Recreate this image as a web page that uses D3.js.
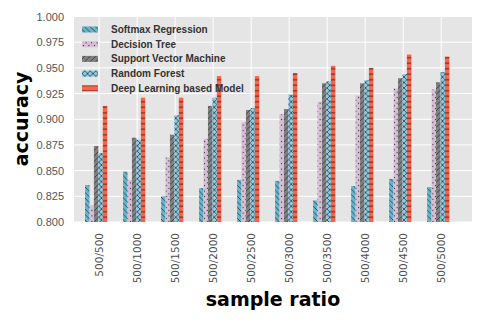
<!DOCTYPE html>
<html>
<head>
<meta charset="utf-8">
<script src="https://cdn.jsdelivr.net/npm/d3@7"></script>
<style>
body { margin: 0; background: #fff; }
</style>
</head>
<body>
<script>
var ratios = ["500/500", "500/1000", "500/1500", "500/2000", "500/2500",
              "500/3000", "500/3500", "500/4000", "500/4500", "500/5000"];
var seriesNames = ["Softmax Regression", "Decision Tree", "Support Vector Machine",
                   "Random Forest", "Deep Learning based Model"];
var softmaxAcc = [0.836, 0.849, 0.825, 0.833, 0.841, 0.840, 0.821, 0.835, 0.842, 0.834];
var treeAcc    = [0.816, 0.841, 0.863, 0.881, 0.897, 0.905, 0.917, 0.923, 0.930, 0.929];
var svmAcc     = [0.874, 0.882, 0.885, 0.913, 0.909, 0.910, 0.935, 0.935, 0.940, 0.936];
var forestAcc  = [0.867, 0.880, 0.904, 0.921, 0.911, 0.924, 0.937, 0.938, 0.944, 0.946];
var deepAcc    = [0.913, 0.921, 0.921, 0.942, 0.942, 0.945, 0.952, 0.950, 0.963, 0.961];
var yTicks = [0.800, 0.825, 0.850, 0.875, 0.900, 0.925, 0.950, 0.975, 1.000];

var allSeries = [softmaxAcc, treeAcc, svmAcc, forestAcc, deepAcc];
var fills = ["#64b5cd", "#d8bfd8", "#808080", "#87ceeb", "#ff6347"];
var hatches = ["back", "dots", "fwd", "cross", "horiz"];

var W = 485, H = 323;
var margin = {top: 16.5, right: 13, bottom: 101, left: 74},
    width = W - margin.left - margin.right,
    height = H - margin.top - margin.bottom;
var barW = 0.117;

var svg = d3.select("body").append("svg")
    .attr("width", W)
    .attr("height", H);

// hatch patterns
var defs = svg.append("defs");
var s = 5.5;
function makePattern(id, kind, fill) {
    var p = defs.append("pattern")
        .attr("id", id)
        .attr("patternUnits", "userSpaceOnUse")
        .attr("width", s).attr("height", s);
    p.append("rect").attr("width", s).attr("height", s).attr("fill", fill);
    var ink = "#262626", lw = 0.7;
    if (kind == "back" || kind == "cross") {
        p.append("path")
            .attr("d", "M-1,-1L" + (s + 1) + "," + (s + 1) + "M" + (s - 1) + ",-1L" + (s + 1) + ",1M-1," + (s - 1) + "L1," + (s + 1))
            .attr("stroke", ink).attr("stroke-width", lw);
    }
    if (kind == "fwd" || kind == "cross") {
        p.append("path")
            .attr("d", "M-1," + (s + 1) + "L" + (s + 1) + ",-1M-1,1L1,-1M" + (s - 1) + "," + (s + 1) + "L" + (s + 1) + "," + (s - 1))
            .attr("stroke", ink).attr("stroke-width", lw);
    }
    if (kind == "horiz") {
        p.append("path")
            .attr("d", "M0," + (s / 2) + "H" + s)
            .attr("stroke", ink).attr("stroke-width", 0.9);
    }
    if (kind == "dots") {
        [[s / 4, s / 4], [3 * s / 4, 3 * s / 4]].forEach(function(c) {
            p.append("circle").attr("cx", c[0]).attr("cy", c[1]).attr("r", 0.6).attr("fill", ink);
        });
    }
}
seriesNames.forEach(function(n, k) { makePattern("hatch" + k, hatches[k], fills[k]); });

var g = svg.append("g")
    .attr("transform", "translate(" + margin.left + "," + margin.top + ")");

var x = d3.scaleLinear().domain([-0.29, 10.18]).range([0, width]);
var y = d3.scaleLinear().domain([0.8, 1.0]).range([height, 0]);

g.append("rect")
    .attr("width", width).attr("height", height)
    .attr("fill", "#e5e5e5");

var tickPos = ratios.map(function(r, i) { return i + 0.37; });

// grid
g.selectAll(".hgrid").data(yTicks).enter().append("line")
    .attr("x1", 0).attr("x2", width)
    .attr("y1", function(d) { return y(d); })
    .attr("y2", function(d) { return y(d); })
    .attr("stroke", "#fff").attr("stroke-width", 1);
g.selectAll(".vgrid").data(tickPos).enter().append("line")
    .attr("y1", 0).attr("y2", height)
    .attr("x1", function(d) { return x(d); })
    .attr("x2", function(d) { return x(d); })
    .attr("stroke", "#fff").attr("stroke-width", 1);

// bars
var clip = defs.append("clipPath").attr("id", "plotclip");
clip.append("rect").attr("width", width).attr("height", height);
var barLayer = g.append("g").attr("clip-path", "url(#plotclip)");
allSeries.forEach(function(vals, k) {
    barLayer.selectAll(".bar" + k).data(vals).enter().append("rect")
        .attr("x", function(d, i) { return x(i + k * barW); })
        .attr("width", x(barW) - x(0))
        .attr("y", function(d) { return y(d); })
        .attr("height", function(d) { return y(0.8) - y(d); })
        .attr("fill", "url(#hatch" + k + ")");
});

// axes
var yAxis = g.append("g")
    .call(d3.axisLeft(y).tickValues(yTicks).tickFormat(d3.format(".3f")).tickSize(0).tickPadding(10));
yAxis.select(".domain").remove();
yAxis.selectAll("text")
    .attr("font-family", "Liberation Sans, Arial, sans-serif")
    .attr("font-size", 11)
    .attr("fill", "#555");

var xAxis = g.append("g")
    .attr("transform", "translate(0," + height + ")")
    .call(d3.axisBottom(x).tickValues(tickPos).tickFormat(function(d, i) { return ratios[i]; }).tickSize(0));
xAxis.select(".domain").remove();
xAxis.selectAll("text")
    .attr("font-family", "DejaVu Sans, sans-serif")
    .attr("font-size", 10.5)
    .attr("fill", "#4d4d4d")
    .attr("transform", "rotate(-90)")
    .attr("x", -11)
    .attr("y", 0)
    .attr("dy", "0.35em")
    .style("text-anchor", "end");

// axis titles
svg.append("text")
    .attr("transform", "translate(28,119) rotate(-90)")
    .attr("font-family", "DejaVu Sans, sans-serif")
    .attr("font-weight", "bold")
    .attr("font-size", 19)
    .style("text-anchor", "middle")
    .text("accuracy");

svg.append("text")
    .attr("x", margin.left + width / 2)
    .attr("y", 306)
    .attr("font-family", "DejaVu Sans, sans-serif")
    .attr("font-weight", "bold")
    .attr("font-size", 19)
    .style("text-anchor", "middle")
    .text("sample ratio");

// legend, no frame
var legend = svg.append("g").attr("transform", "translate(82,29.5)");
seriesNames.forEach(function(n, k) {
    var row = legend.append("g").attr("transform", "translate(0," + (k * 14.7) + ")");
    row.append("rect")
        .attr("x", 0).attr("y", -3)
        .attr("width", 16).attr("height", 6)
        .attr("fill", "url(#hatch" + k + ")");
    row.append("text")
        .attr("x", 29).attr("y", 0)
        .attr("dy", "0.35em")
        .attr("font-family", "Liberation Sans, Arial, sans-serif")
        .attr("font-weight", "bold")
        .attr("font-size", 10)
        .attr("fill", "#333")
        .text(n);
});
</script>
</body>
</html>
